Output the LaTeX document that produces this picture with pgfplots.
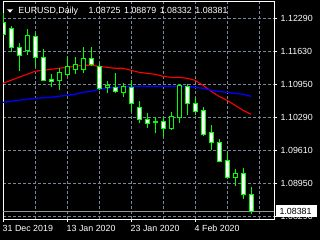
\documentclass[border=0pt]{standalone}
\usepackage{fontspec}
\setmainfont{Liberation Sans}
\usepackage{pgfplots}
\pgfplotsset{compat=1.18}
\usepackage{pgfplotstable}

\definecolor{gridc}{RGB}{119,136,153}
\definecolor{bidc}{RGB}{150,150,150}
\newcommand\chartfont{\fontsize{8.9}{10}\selectfont}

\pgfplotstableread{
i o h l c
0 1.12209 1.12391 1.11947 1.11967
1 1.12088 1.12128 1.11603 1.11704
2 1.11704 1.11785 1.11219 1.11543
3 1.11644 1.12068 1.11543 1.11947
4 1.11926 1.11987 1.11300 1.11502
5 1.11502 1.11664 1.11017 1.11038
6 1.11058 1.11159 1.10896 1.11017
7 1.11038 1.11280 1.10836 1.11199
8 1.11159 1.11502 1.11118 1.11320
9 1.11260 1.11502 1.11159 1.11361
10 1.11260 1.11704 1.11179 1.11482
11 1.11482 1.11704 1.11320 1.11361
12 1.11320 1.11381 1.10836 1.10876
13 1.10896 1.11017 1.10775 1.10937
14 1.10896 1.11179 1.10775 1.10815
15 1.10795 1.10977 1.10694 1.10916
16 1.10896 1.11038 1.10391 1.10573
17 1.10492 1.10613 1.10169 1.10250
18 1.10250 1.10371 1.10068 1.10169
19 1.10209 1.10290 1.09967 1.10189
20 1.10209 1.10290 1.09886 1.10068
21 1.10068 1.10391 1.10028 1.10310
22 1.10290 1.10957 1.10169 1.10937
23 1.10916 1.10957 1.10331 1.10573
24 1.10573 1.10694 1.10331 1.10411
25 1.10432 1.10492 1.09906 1.09947
26 1.09987 1.10129 1.09624 1.09785
27 1.09785 1.09846 1.09381 1.09401
28 1.09422 1.09583 1.09038 1.09078
29 1.09078 1.09240 1.08896 1.09159
30 1.09159 1.09260 1.08634 1.08735
31 1.08725 1.08879 1.08332 1.08381
}\candles

\pgfplotstableread{
i red blue
0 1.10977 1.10593
1 1.11038 1.10613
2 1.11098 1.10634
3 1.11159 1.10654
4 1.11219 1.10674
5 1.11240 1.10684
6 1.11260 1.10694
7 1.11280 1.10714
8 1.11300 1.10735
9 1.11320 1.10755
10 1.11341 1.10795
11 1.11341 1.10815
12 1.11320 1.10856
13 1.11300 1.10876
14 1.11280 1.10896
15 1.11280 1.10906
16 1.11240 1.10916
17 1.11199 1.10916
18 1.11179 1.10916
19 1.11159 1.10916
20 1.11118 1.10916
21 1.11098 1.10916
22 1.11098 1.10916
23 1.11078 1.10916
24 1.11038 1.10896
25 1.10937 1.10876
26 1.10815 1.10836
27 1.10714 1.10815
28 1.10634 1.10795
29 1.10533 1.10775
30 1.10432 1.10755
31 1.10351 1.10714
}\mas

\pgfplotsset{
  chartaxis/.style={
    at={(3bp,21bp)}, anchor=south west, scale only axis,
    width=271bp, height=217bp,
    xmin=0, xmax=33.875, ymin=1.082355, ymax=1.126193,
  }
}

\begin{document}
\begin{tikzpicture}
\path[use as bounding box, fill=black] (0bp,0bp) rectangle (320bp,240bp);
\begin{axis}[chartaxis,
  axis line style={draw=white, line width=1bp},
  xtick={0,8,16,24},
  xticklabels={31 Dec 2019, 13 Jan 2020, 23 Jan 2020, 4 Feb 2020},
  minor xtick={4,12,20,28,32},
  xmajorgrids, xminorgrids, ymajorgrids,
  ytick={1.12290,1.116233,1.109567,1.1029,1.096233,1.089567,1.0829},
  yticklabels={1.12290,1.11630,1.10950,1.10290,1.09610,1.08950,1.08290},
  major grid style={draw=gridc, dash pattern=on 3bp off 2bp, line width=1bp},
  minor grid style={draw=gridc, dash pattern=on 3bp off 2bp, line width=1bp},
  minor tick length=0pt,
  tick align=outside, major tick length=3bp,
  xtick pos=left, ytick pos=right, yticklabel pos=right,
  tick style={draw=white, line width=1bp},
  ticklabel style={font=\chartfont, text=white, inner sep=0pt},
  xticklabel style={anchor=base west, xshift=-0.5bp, yshift=-9bp},
  yticklabel style={anchor=west, xshift=3.5bp},
]
\addplot[draw=bidc, line width=1bp] coordinates {(0,1.08381) (33.875,1.08381)};
\addplot[draw=red, line width=1.1bp] table[x=i, y=red] \mas;
\addplot[draw=blue, line width=1.3bp] table[x=i, y=blue] \mas;
\addplot[draw=none, error bars/.cd, y dir=plus, y explicit, error mark=none,
  error bar style={draw=green, line width=1bp, solid}]
  table[x=i, y=l, y error expr=\thisrow{h}-\thisrow{l}] \candles;
\end{axis}
\begin{axis}[chartaxis, hide axis, ybar stacked, bar width=4bp]
\addplot[draw=none, fill=none] table[x=i, y expr={min(\thisrow{o},\thisrow{c})}] \candles;
\addplot[draw=green, fill=white, line width=1bp] table[x=i, y expr={max(\thisrow{o}-\thisrow{c},0)}] \candles;
\addplot[draw=green, fill=black, line width=1bp] table[x=i, y expr={max(\thisrow{c}-\thisrow{o},0)}] \candles;
\end{axis}
\fill[white] (7bp,230.7bp) -- (13bp,230.7bp) -- (10bp,227.3bp) -- cycle;
\node[anchor=base west, inner sep=0pt, text=white, font=\chartfont] at (18.3bp,226bp) {EURUSD,Daily};
\node[anchor=base west, inner sep=0pt, text=white, font=\chartfont] at (88.3bp,226bp) {1.08725\hspace{3.6bp}1.08879\hspace{3.6bp}1.08332\hspace{3.6bp}1.08381};
\fill[white] (276bp,23.3bp) rectangle (316.7bp,34.7bp);
\node[anchor=base west, inner sep=0pt, text=black, font=\chartfont] at (279.3bp,26bp) {1.08381};
\end{tikzpicture}
\end{document}
